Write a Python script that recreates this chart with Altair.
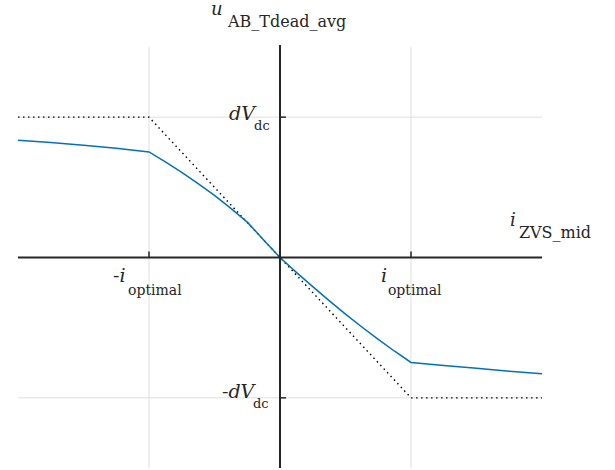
import altair as alt
import pandas as pd

# Average dead-time voltage versus mid-point ZVS current (normalised: i_optimal = 1, dVdc = 1)
curve_x = [-2.0, -1.75, -1.5, -1.25, -1.0, -0.875, -0.75, -0.625, -0.5, -0.375, -0.25, -0.125, 0.0,
           0.125, 0.25, 0.375, 0.5, 0.625, 0.75, 0.875, 1.0, 1.25, 1.5, 1.75, 2.0]
curve_y = [0.836, 0.82, 0.80, 0.778, 0.752, 0.681, 0.607, 0.527, 0.443, 0.35, 0.252, 0.125, 0.0,
           -0.106, -0.208, -0.307, -0.403, -0.495, -0.583, -0.668, -0.748, -0.77, -0.79, -0.81, -0.828]

# Ideal (saturating linear) characteristic
ideal_x = [-2.0, -1.0, 1.0, 2.0]
ideal_y = [1.0, 1.0, -1.0, -1.0]

grid_pos = [-1.0, 1.0]

# Annotation text pieces: text, anchor x, anchor y, size, italic
label_text = ["u", "AB_Tdead_avg", "i", "ZVS_mid", "dV", "dc", "-dV", "dc",
              "-i", "optimal", "i", "optimal"]
label_x = [-0.527, -0.397, 1.756, 1.824, -0.389, -0.198, -0.443, -0.206,
           -1.275, -1.160, 0.771, 0.824]
label_y = [1.725, 1.639, 0.221, 0.1425, 0.983, 0.905, -0.998, -1.076,
           -0.178, -0.264, -0.178, -0.264]
label_size = [18, 16, 18, 16, 19, 13, 19, 13, 19, 14, 19, 14]
label_italic = [True, False, True, False, True, False, True, False,
                True, False, True, False]

XD = [-2, 2]
YD = [-1.5, 1.5]
xs = alt.Scale(domain=XD, nice=False, zero=False)
ys = alt.Scale(domain=YD, nice=False, zero=False)

curve_df = pd.DataFrame({"x": curve_x, "y": curve_y})
ideal_df = pd.DataFrame({"x": ideal_x, "y": ideal_y})
grid_df = pd.DataFrame({"p": grid_pos})
lab_df = pd.DataFrame({"t": label_text, "x": label_x, "y": label_y,
                       "s": label_size, "it": label_italic})
zero_df = pd.DataFrame({"z": [0.0]})

GRID = "#dfdfdf"
AX = "#262626"
SERIF = "DejaVu Serif"

vgrid = alt.Chart(grid_df).mark_rule(color=GRID, strokeWidth=1).encode(
    x=alt.X("p:Q", scale=xs, axis=None), y=alt.value(0), y2=alt.value(421))
hgrid = alt.Chart(grid_df).mark_rule(color=GRID, strokeWidth=1).encode(
    y=alt.Y("p:Q", scale=ys, axis=None), x=alt.value(0), x2=alt.value(524))

ideal = alt.Chart(ideal_df).mark_line(color="black", strokeWidth=1.4,
                                      strokeDash=[1.5, 3.5]).encode(
    x=alt.X("x:Q", scale=xs, axis=None), y=alt.Y("y:Q", scale=ys, axis=None))

curve = alt.Chart(curve_df).mark_line(color="#0072BD", strokeWidth=1.5).encode(
    x=alt.X("x:Q", scale=xs, axis=None), y=alt.Y("y:Q", scale=ys, axis=None))

xaxis = alt.Chart(zero_df).mark_rule(color=AX, strokeWidth=2).encode(
    y=alt.Y("z:Q", scale=ys, axis=None), x=alt.value(0), x2=alt.value(524))
yaxis = alt.Chart(zero_df).mark_rule(color=AX, strokeWidth=2).encode(
    x=alt.X("z:Q", scale=xs, axis=None), y=alt.value(-2), y2=alt.value(421))

# small ticks at the ±1 positions
yticks = alt.Chart(grid_df).transform_calculate(x0="0", x1="0.046").mark_rule(
    color=AX, strokeWidth=1.5).encode(
    y=alt.Y("p:Q", scale=ys, axis=None),
    x=alt.X("x0:Q", scale=xs, axis=None), x2="x1:Q")
xticks = alt.Chart(grid_df).transform_calculate(y0="0", y1="0.043").mark_rule(
    color=AX, strokeWidth=1.5).encode(
    x=alt.X("p:Q", scale=xs, axis=None),
    y=alt.Y("y0:Q", scale=ys, axis=None), y2="y1:Q")


def text_layer(italic):
    return alt.Chart(lab_df).transform_filter(
        alt.datum.it == italic
    ).mark_text(
        font=SERIF, align="left", baseline="alphabetic",
        color="#262626", fontStyle="italic" if italic else "normal",
    ).encode(
        x=alt.X("x:Q", scale=xs, axis=None),
        y=alt.Y("y:Q", scale=ys, axis=None),
        text="t:N",
        size=alt.Size("s:Q", scale=None, legend=None),
    )


chart = alt.layer(vgrid, hgrid, ideal, curve, xaxis, yaxis, yticks, xticks,
                  text_layer(True), text_layer(False)).properties(
    width=524, height=421,
    autosize=alt.AutoSizeParams(type="none"),
    padding={"left": 18, "top": 47, "right": 73, "bottom": 2},
    background="white",
).configure_view(stroke=None)

chart.save("out.html", embed_options={"renderer": "svg", "actions": False})
